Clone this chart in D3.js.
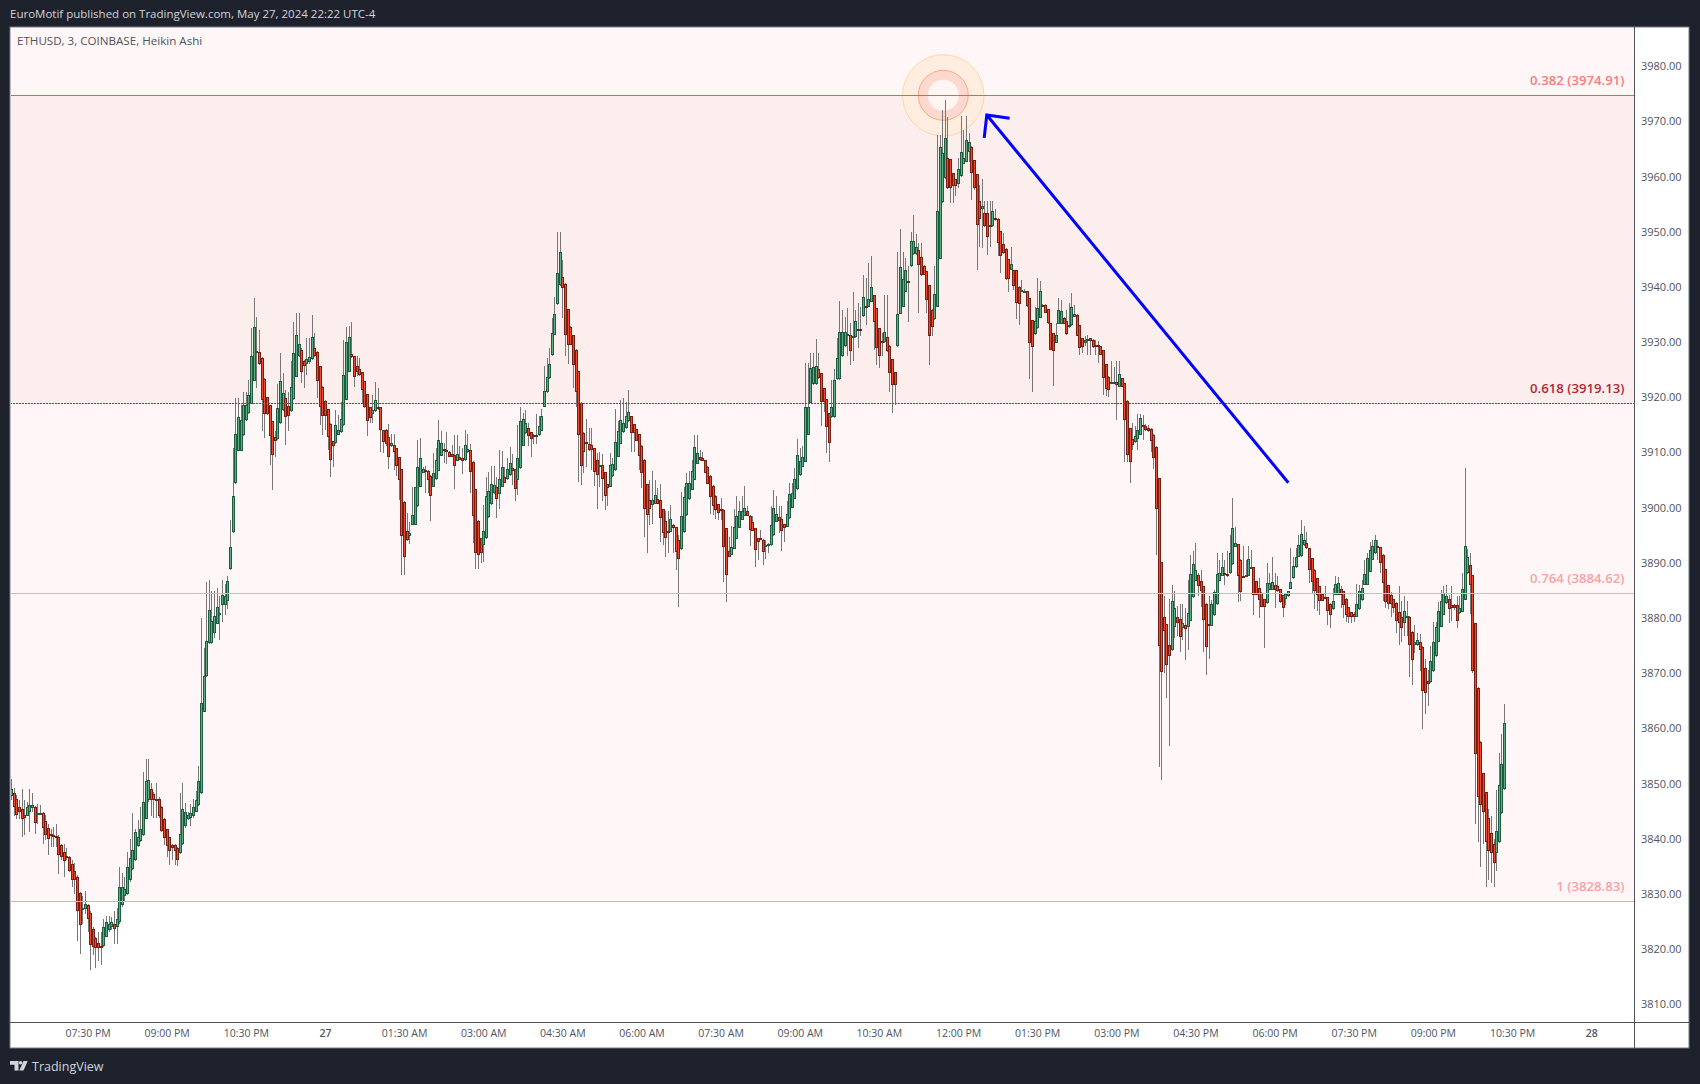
<!DOCTYPE html>
<html><head><meta charset="utf-8">
<script src="https://cdn.jsdelivr.net/npm/d3@7/dist/d3.min.js"></script>
<style>html,body{margin:0;padding:0;background:#1e222d;overflow:hidden}svg{display:block}text{font-family:"Open Sans","Noto Sans",sans-serif}</style>
</head><body><svg id="c" width="1700" height="1084"></svg>
<script>
// Heikin Ashi candles, ETHUSD 3-minute
const opens=[
3847.9,3848.5,3847.3,3845.9,3845.5,3844.5,3844.3,3845.1,3845.7,3846.0,
3844.6,3844.7,3844.8,3843.4,3842.2,3841.1,3840.9,3840.7,3840.5,3839.0,
3837.8,3837.0,3836.9,3835.6,3834.3,3833.3,3830.3,3827.4,3827.4,3828.1,
3826.8,3823.9,3822.1,3821.2,3820.8,3820.7,3822.4,3823.6,3824.1,3824.7,
3824.2,3825.0,3828.1,3829.7,3830.2,3832.6,3834.6,3836.3,3838.8,3839.7,
3840.8,3843.8,3847.1,3849.1,3848.3,3847.4,3847.4,3845.9,3843.7,3841.9,
3840.4,3839.1,3839.0,3838.4,3837.5,3839.2,3842.4,3843.7,3844.0,3844.2,
3845.1,3846.2,3848.4,3863.2,3869.6,3875.6,3875.6,3877.4,3879.1,3880.7,
3882.6,3882.5,3883.3,3889.0,3895.7,3904.6,3910.5,3910.5,3913.3,3916.0,
3917.3,3919.0,3923.2,3928.2,3928.4,3927.3,3923.5,3920.2,3918.7,3915.8,
3912.9,3912.6,3915.5,3917.8,3920.0,3918.6,3917.7,3919.8,3923.9,3927.6,
3928.8,3926.7,3926.2,3926.6,3927.1,3929.1,3928.4,3925.8,3922.1,3919.5,
3918.0,3915.4,3912.2,3911.9,3913.4,3913.8,3915.1,3919.7,3924.8,3928.0,
3927.6,3925.8,3925.3,3924.7,3923.1,3920.7,3918.4,3917.2,3917.7,3918.5,
3918.4,3914.2,3914.3,3913.0,3911.3,3911.5,3910.9,3909.3,3907.1,3901.2,
3896.0,3895.1,3897.1,3897.1,3900.4,3904.0,3906.5,3907.0,3906.9,3906.0,
3904.0,3905.3,3906.9,3909.6,3910.8,3910.6,3910.3,3909.9,3909.7,3908.7,
3909.4,3909.1,3908.8,3910.2,3910.6,3908.5,3903.5,3897.8,3894.6,3893.4,
3894.6,3898.4,3900.8,3902.8,3903.9,3902.7,3904.0,3905.7,3905.3,3906.1,
3907.4,3907.1,3905.2,3907.3,3911.4,3913.7,3914.7,3913.8,3913.4,3913.2,
3913.3,3914.1,3918.5,3921.1,3923.6,3927.8,3931.5,3937.0,3940.5,3941.9,
3940.8,3936.1,3933.0,3931.4,3928.8,3924.9,3919.2,3913.7,3912.1,3911.8,
3911.5,3910.9,3908.9,3907.6,3907.9,3906.6,3904.4,3904.0,3905.9,3907.0,
3909.4,3911.8,3913.8,3914.6,3915.8,3916.7,3915.3,3914.4,3913.5,3911.4,
3908.9,3904.4,3901.5,3900.6,3900.9,3901.7,3901.6,3899.9,3897.7,3896.0,
3895.8,3897.0,3896.6,3894.4,3892.6,3895.7,3898.8,3901.7,3903.4,3905.2,
3908.1,3909.3,3909.1,3908.8,3907.6,3906.0,3904.1,3902.3,3900.8,3900.0,
3899.8,3896.4,3892.3,3891.6,3892.7,3894.5,3896.5,3898.0,3898.6,3899.5,
3898.7,3897.6,3896.4,3894.6,3894.6,3894.4,3893.3,3893.3,3893.4,3895.2,
3897.6,3898.4,3898.2,3897.2,3896.7,3898.3,3900.2,3901.8,3903.5,3906.1,
3907.6,3908.5,3913.4,3919.2,3922.5,3922.5,3925.3,3924.5,3921.8,3919.8,
3917.3,3916.6,3916.6,3923.5,3923.5,3927.6,3929.4,3931.4,3931.5,3930.9,
3931.1,3932.5,3932.5,3934.9,3936.7,3936.6,3937.5,3938.7,3936.3,3932.7,
3930.3,3930.2,3931.1,3929.5,3927.1,3924.7,3929.4,3935.3,3936.6,3939.3,
3941.2,3943.9,3946.1,3946.1,3946.9,3945.6,3944.0,3943.0,3940.5,3936.0,
3934.3,3936.6,3945.3,3955.5,3959.9,3963.5,3963.3,3960.8,3959.7,3958.9,
3960.2,3962.5,3962.9,3964.7,3965.6,3963.1,3960.6,3955.8,3954.3,3953.5,
3953.5,3951.4,3951.2,3952.6,3952.5,3950.3,3947.9,3947.1,3945.2,3943.3,
3943.2,3943.2,3940.2,3939.4,3939.4,3939.4,3938.1,3934.1,3931.6,3932.7,
3934.6,3936.9,3936.9,3936.1,3933.6,3931.8,3930.1,3933.5,3933.5,3934.6,
3934.0,3932.9,3933.2,3934.8,3935.1,3933.2,3930.9,3930.0,3930.5,3930.9,
3930.6,3929.7,3929.7,3929.4,3928.7,3926.2,3923.9,3922.8,3922.8,3923.0,
3922.1,3923.6,3922.7,3919.5,3914.6,3912.6,3912.0,3912.6,3913.4,3915.1,
3915.0,3914.6,3914.5,3913.4,3911.2,3905.5,3890.3,3880.3,3879.0,3875.2,
3874.3,3878.6,3880.3,3880.0,3878.3,3878.9,3878.5,3879.7,3883.9,3886.9,
3887.9,3886.8,3885.9,3882.8,3879.1,3878.8,3880.7,3882.7,3886.9,3887.8,
3888.3,3888.1,3888.3,3889.9,3893.1,3893.5,3890.7,3887.8,3887.7,3887.8,
3889.2,3889.4,3886.8,3885.7,3884.7,3883.6,3882.9,3885.3,3885.3,3886.1,
3885.9,3885.4,3884.3,3883.7,3884.1,3885.5,3887.4,3889.4,3891.3,3891.4,
3893.4,3893.8,3892.8,3891.0,3888.9,3887.4,3885.9,3884.5,3883.9,3883.9,
3882.8,3881.8,3884.4,3884.4,3885.4,3885.0,3883.7,3882.1,3881.2,3880.9,
3880.4,3881.8,3883.4,3886.2,3886.2,3888.6,3890.7,3891.9,3893.2,3893.0,
3891.6,3889.0,3886.1,3884.3,3883.6,3882.9,3881.2,3880.3,3879.2,3880.3,
3880.4,3877.7,3875.2,3875.2,3875.8,3875.0,3871.1,3868.7,3868.5,3870.5,
3873.2,3875.9,3878.6,3880.8,3882.9,3883.6,3882.6,3882.5,3882.5,3881.0,
3881.3,3883.5,3888.3,3889.7,3887.9,3879.2,3867.5,3857.7,3852.0,3848.6,
3844.0,3841.2,3839.3,3837.5,3839.5,3844.8,3849.1];
const closes=[
3849.1,3846.0,3844.5,3845.0,3843.8,3844.0,3846.0,3846.2,3846.2,3843.1,
3844.8,3844.8,3842.2,3840.8,3840.1,3841.0,3840.5,3840.4,3837.3,3836.8,
3836.2,3836.9,3834.4,3832.6,3832.6,3827.0,3824.6,3827.7,3828.4,3825.6,
3821.0,3820.5,3820.3,3820.4,3820.7,3824.1,3825.0,3824.7,3825.0,3823.9,
3825.6,3831.4,3831.4,3831.0,3835.1,3836.6,3838.2,3841.4,3840.4,3841.9,
3846.9,3850.6,3850.9,3847.1,3847.2,3847.2,3844.2,3841.5,3840.3,3838.9,
3838.0,3838.5,3838.0,3836.3,3841.1,3845.5,3845.0,3844.5,3844.8,3845.9,
3847.1,3850.7,3864.8,3869.6,3876.0,3881.6,3879.6,3880.5,3882.2,3881.0,
3884.4,3884.1,3886.8,3893.0,3902.2,3913.5,3916.6,3916.1,3918.7,3918.7,
3920.6,3927.6,3932.9,3928.5,3926.2,3919.6,3917.1,3917.2,3913.1,3909.8,
3912.2,3918.2,3923.2,3920.9,3916.6,3916.8,3922.0,3928.2,3931.4,3929.8,
3924.7,3925.8,3927.2,3927.4,3931.1,3927.6,3923.2,3918.5,3916.7,3916.7,
3912.9,3908.9,3911.3,3915.1,3914.3,3916.2,3924.2,3930.2,3931.1,3927.4,
3923.8,3924.7,3924.2,3921.5,3918.4,3915.8,3916.4,3917.8,3919.6,3918.0,
3914.2,3912.1,3911.7,3909.4,3911.9,3910.2,3907.8,3905.2,3895.1,3891.2,
3894.3,3895.5,3898.9,3903.9,3907.5,3909.1,3907.1,3906.9,3905.2,3902.2,
3906.4,3908.8,3912.5,3911.9,3910.4,3910.2,3909.4,3909.4,3907.8,3909.9,
3908.9,3908.7,3911.5,3910.8,3906.6,3898.6,3892.0,3891.6,3892.0,3895.9,
3902.2,3903.2,3904.4,3904.3,3901.7,3905.3,3907.5,3904.7,3907.1,3908.3,
3906.9,3903.6,3909.1,3915.8,3916.2,3915.5,3913.1,3912.7,3913.2,3913.4,
3914.9,3916.8,3921.4,3923.9,3926.2,3931.9,3935.2,3942.7,3946.6,3939.9,
3931.5,3929.7,3929.7,3926.0,3921.2,3913.4,3907.8,3910.3,3912.0,3910.6,
3910.6,3906.7,3906.1,3907.9,3905.4,3902.2,3903.8,3907.9,3908.1,3912.0,
3914.0,3916.0,3915.5,3916.7,3917.6,3913.7,3913.7,3912.3,3909.6,3906.4,
3899.9,3898.8,3899.9,3901.5,3902.4,3900.9,3898.3,3895.5,3894.6,3895.5,
3898.1,3896.5,3892.1,3890.9,3898.7,3902.1,3904.6,3904.6,3906.9,3911.2,
3910.1,3908.8,3908.7,3906.5,3904.5,3902.1,3900.4,3899.8,3899.2,3899.5,
3893.1,3888.0,3891.3,3893.0,3896.7,3898.7,3899.6,3899.5,3900.2,3898.7,
3896.1,3896.0,3892.5,3894.0,3894.5,3892.2,3893.4,3893.5,3897.0,3900.2,
3899.1,3897.8,3896.0,3896.4,3899.1,3902.7,3902.9,3905.3,3909.7,3908.7,
3909.3,3918.4,3918.4,3925.4,3925.7,3925.9,3923.6,3919.3,3919.3,3914.8,
3911.9,3918.5,3923.3,3927.3,3932.0,3932.0,3932.0,3931.6,3928.6,3931.3,
3934.0,3932.4,3932.4,3938.4,3936.6,3938.0,3940.1,3933.9,3929.1,3927.7,
3930.2,3932.0,3928.5,3924.5,3922.4,3922.4,3935.3,3943.8,3941.7,3943.3,
3941.1,3948.5,3948.5,3947.5,3944.1,3942.3,3942.4,3937.8,3931.3,3933.0,
3938.9,3954.0,3965.5,3964.4,3967.1,3958.1,3958.1,3958.5,3958.4,3961.5,
3964.6,3963.5,3966.8,3966.5,3960.8,3958.1,3951.4,3952.5,3954.8,3951.2,
3949.3,3951.1,3953.9,3952.3,3948.1,3945.7,3946.3,3941.6,3941.6,3944.3,
3940.3,3937.2,3937.1,3939.6,3939.5,3936.7,3930.0,3929.3,3934.0,3936.3,
3939.4,3936.6,3935.5,3933.6,3928.8,3928.5,3931.4,3936.0,3935.8,3933.5,
3931.6,3933.3,3936.6,3935.3,3931.3,3929.1,3929.3,3930.5,3930.7,3930.3,
3929.3,3929.3,3929.3,3927.9,3923.6,3921.6,3921.5,3923.0,3923.0,3922.4,
3924.4,3922.1,3916.1,3909.7,3908.4,3911.5,3913.2,3914.3,3916.4,3915.0,
3914.2,3914.0,3912.3,3909.1,3899.9,3875.1,3870.3,3877.9,3871.6,3873.2,
3883.3,3881.9,3879.3,3876.8,3879.2,3878.1,3881.0,3888.1,3890.0,3888.8,
3885.9,3885.0,3879.8,3875.0,3878.9,3882.7,3884.9,3888.1,3888.4,3889.5,
3888.0,3887.7,3892.0,3896.4,3893.7,3887.7,3884.8,3887.7,3887.9,3890.8,
3889.4,3884.4,3884.4,3883.4,3882.2,3882.1,3886.5,3886.5,3886.7,3885.3,
3885.0,3883.0,3881.9,3884.5,3885.0,3886.7,3889.6,3891.2,3893.4,3895.4,
3894.3,3892.8,3888.9,3886.7,3885.0,3884.4,3883.2,3883.3,3883.8,3881.5,
3880.7,3883.3,3886.4,3886.5,3884.4,3882.5,3880.7,3880.4,3880.3,3880.3,
3882.8,3885.0,3885.6,3888.1,3891.0,3892.5,3893.2,3894.3,3892.8,3890.2,
3886.5,3883.0,3882.7,3882.7,3882.0,3879.6,3879.2,3878.3,3881.4,3880.5,
3875.2,3872.5,3875.9,3876.1,3874.3,3867.0,3866.5,3868.3,3872.3,3875.9,
3878.5,3881.4,3883.2,3884.7,3884.2,3881.8,3882.0,3881.9,3879.6,3881.9,
3885.4,3893.2,3891.2,3886.2,3870.5,3855.5,3847.8,3846.3,3845.1,3839.5,
3838.0,3837.6,3835.7,3841.5,3849.9,3853.7,3861.2];
const highs=[
3851.0,3849.3,3848.1,3847.2,3849.2,3847.2,3846.9,3849.1,3848.4,3846.1,
3846.4,3846.2,3845.1,3844.5,3842.8,3842.0,3842.3,3842.9,3840.8,3839.3,
3839.3,3838.4,3837.0,3836.3,3835.7,3833.6,3830.6,3829.7,3830.7,3828.3,
3827.1,3824.2,3822.4,3823.2,3823.2,3825.7,3826.2,3826.2,3826.0,3827.1,
3827.6,3835.0,3834.0,3833.3,3837.8,3840.1,3844.9,3841.9,3843.6,3846.0,
3852.2,3854.7,3854.7,3850.2,3848.7,3850.2,3847.7,3846.1,3844.0,3842.0,
3840.5,3839.3,3839.2,3838.6,3848.4,3850.2,3846.6,3845.1,3846.5,3847.3,
3848.8,3853.4,3880.1,3874.7,3886.7,3887.1,3885.0,3885.0,3885.6,3884.1,
3887.1,3886.4,3887.7,3898.0,3910.9,3920.0,3920.0,3918.8,3921.2,3921.2,
3923.3,3932.7,3938.1,3934.8,3932.4,3927.4,3923.6,3920.3,3918.8,3915.9,
3914.1,3922.6,3928.2,3924.5,3921.5,3921.2,3926.7,3933.9,3935.5,3935.5,
3929.1,3927.0,3930.9,3930.9,3935.1,3931.8,3928.5,3925.9,3922.2,3919.6,
3918.1,3915.5,3912.3,3917.9,3917.0,3919.4,3930.5,3933.0,3933.1,3933.8,
3927.7,3927.6,3927.3,3924.8,3923.2,3920.8,3918.5,3920.6,3923.0,3921.8,
3918.5,3914.3,3914.4,3915.4,3913.6,3913.6,3911.0,3909.4,3907.2,3901.3,
3899.2,3897.6,3903.9,3904.0,3912.5,3912.8,3907.6,3907.7,3907.0,3906.1,
3910.0,3910.9,3916.1,3914.0,3911.9,3913.9,3910.4,3911.6,3913.4,3913.4,
3911.3,3910.9,3914.3,3913.6,3911.7,3908.6,3903.6,3897.9,3894.7,3900.7,
3905.8,3906.7,3907.7,3907.7,3905.8,3910.6,3910.4,3907.6,3909.1,3911.1,
3909.9,3907.2,3915.2,3918.5,3917.4,3917.8,3915.5,3913.9,3913.5,3917.2,
3916.7,3918.0,3925.9,3927.3,3929.2,3934.5,3938.3,3950.2,3950.2,3945.1,
3940.9,3936.2,3933.1,3931.5,3928.9,3925.0,3919.3,3913.8,3916.2,3914.6,
3914.6,3911.0,3910.0,3910.2,3909.9,3906.7,3904.5,3910.0,3909.1,3918.0,
3915.8,3919.7,3920.1,3919.4,3921.5,3916.8,3915.4,3914.5,3913.6,3911.5,
3909.0,3904.5,3905.2,3906.9,3905.2,3903.7,3904.5,3900.0,3899.5,3899.5,
3900.7,3897.3,3896.7,3895.2,3903.1,3904.0,3906.4,3906.9,3908.8,3913.3,
3913.3,3910.6,3910.3,3908.9,3907.7,3906.1,3904.2,3902.4,3900.9,3902.0,
3899.9,3896.5,3894.9,3896.9,3899.9,3902.2,3901.3,3902.3,3904.1,3900.4,
3898.8,3898.6,3896.5,3894.7,3896.1,3894.5,3894.3,3893.7,3900.4,3903.3,
3902.2,3900.4,3900.4,3897.3,3901.3,3904.6,3904.6,3907.3,3912.6,3910.9,
3911.4,3926.4,3926.4,3928.2,3928.2,3930.7,3928.2,3924.6,3921.9,3919.9,
3917.4,3923.4,3925.3,3930.9,3937.7,3936.0,3934.8,3936.3,3933.6,3939.3,
3936.0,3937.2,3936.6,3942.4,3941.8,3944.5,3945.7,3938.8,3936.4,3932.8,
3931.8,3938.7,3938.7,3929.6,3927.2,3924.8,3946.6,3950.6,3946.5,3945.4,
3943.9,3950.2,3953.2,3949.8,3948.1,3948.1,3944.1,3943.1,3940.6,3936.1,
3943.9,3967.7,3967.7,3972.2,3974.1,3970.9,3963.4,3960.9,3959.8,3963.5,
3971.2,3968.7,3971.2,3968.0,3965.7,3963.2,3960.7,3958.7,3959.7,3955.7,
3955.7,3955.7,3955.7,3954.3,3952.6,3950.4,3949.9,3947.2,3945.3,3947.4,
3943.3,3943.3,3940.3,3941.5,3939.8,3939.5,3938.2,3934.2,3936.6,3941.8,
3941.2,3937.0,3937.0,3936.2,3933.7,3931.9,3933.6,3938.1,3937.8,3934.7,
3936.0,3937.2,3939.0,3936.9,3935.2,3933.3,3931.0,3931.2,3931.5,3931.0,
3930.7,3930.6,3930.3,3929.5,3928.8,3926.3,3924.0,3926.7,3925.7,3926.7,
3926.8,3923.7,3922.8,3919.6,3914.7,3915.6,3915.0,3917.2,3917.2,3917.0,
3915.4,3915.2,3914.6,3913.5,3911.3,3905.6,3890.4,3884.2,3879.1,3883.6,
3886.2,3885.1,3882.4,3882.8,3882.8,3881.9,3887.1,3891.6,3892.4,3893.7,
3888.3,3888.9,3886.0,3882.9,3884.1,3883.4,3885.3,3891.9,3890.7,3891.9,
3890.7,3892.4,3895.2,3901.9,3896.7,3893.6,3890.8,3893.3,3890.7,3893.2,
3892.5,3889.5,3886.9,3887.4,3884.8,3883.7,3890.1,3888.3,3891.2,3888.4,
3887.7,3885.5,3884.4,3884.6,3885.1,3892.8,3891.3,3892.8,3895.2,3897.9,
3896.9,3895.8,3892.9,3891.1,3889.0,3887.5,3886.0,3884.6,3885.9,3884.0,
3882.9,3885.6,3887.8,3887.6,3885.9,3885.1,3883.8,3882.2,3881.3,3881.2,
3886.4,3886.2,3887.1,3890.7,3891.9,3894.0,3894.3,3895.2,3894.3,3893.1,
3891.7,3889.1,3886.2,3884.9,3883.7,3883.0,3886.0,3883.2,3884.2,3883.3,
3880.5,3877.8,3878.9,3877.5,3877.3,3875.1,3872.7,3870.8,3875.1,3879.5,
3879.5,3883.1,3885.3,3886.0,3886.2,3884.4,3886.0,3882.8,3884.2,3884.2,
3888.3,3907.4,3892.6,3892.0,3888.0,3879.3,3867.6,3857.8,3852.1,3848.7,
3845.5,3844.3,3840.2,3849.0,3855.7,3859.2,3864.6];
const lows=[
3847.2,3844.2,3843.7,3843.7,3840.5,3840.8,3844.2,3841.4,3845.1,3841.1,
3842.9,3844.5,3839.2,3839.9,3837.2,3838.6,3838.7,3838.7,3833.8,3836.3,
3833.3,3836.3,3834.2,3831.5,3830.1,3821.7,3819.3,3824.7,3826.6,3823.3,
3816.3,3819.1,3816.7,3818.1,3817.3,3820.6,3822.3,3823.3,3823.6,3821.1,
3821.1,3824.8,3827.8,3828.8,3830.0,3832.4,3834.5,3836.2,3838.7,3839.6,
3840.7,3843.7,3846.9,3844.2,3843.9,3843.9,3844.0,3841.3,3839.0,3836.9,
3835.4,3836.3,3835.4,3835.2,3837.4,3839.1,3842.2,3843.6,3842.4,3844.0,
3845.0,3846.1,3848.3,3863.1,3869.5,3875.5,3875.5,3876.5,3879.0,3876.2,
3879.5,3880.7,3881.8,3888.9,3895.6,3904.5,3910.4,3910.4,3913.2,3915.9,
3917.2,3918.9,3923.1,3921.8,3926.1,3914.0,3912.8,3917.0,3907.9,3903.3,
3909.4,3912.5,3915.4,3917.7,3911.6,3914.1,3917.6,3919.7,3923.8,3927.5,
3922.7,3921.8,3924.2,3926.3,3927.0,3927.5,3920.0,3915.2,3913.4,3914.3,
3910.6,3905.8,3907.6,3911.8,3913.3,3913.7,3915.0,3919.6,3924.7,3927.3,
3922.1,3924.0,3924.1,3919.0,3918.3,3913.2,3915.5,3915.5,3917.6,3917.9,
3910.2,3910.0,3911.3,3907.1,3911.2,3907.0,3906.0,3901.6,3887.9,3887.9,
3894.2,3893.6,3897.0,3897.0,3900.3,3903.9,3906.4,3902.8,3902.8,3897.7,
3903.9,3905.2,3906.8,3909.5,3908.2,3908.1,3909.3,3909.3,3903.6,3908.6,
3908.8,3906.3,3908.7,3910.1,3902.8,3893.7,3889.1,3889.1,3890.2,3890.3,
3894.5,3898.3,3900.7,3902.7,3898.3,3900.0,3903.9,3904.6,3905.2,3906.0,
3904.3,3901.3,3902.5,3907.2,3911.3,3913.6,3911.4,3909.4,3911.7,3911.7,
3913.2,3914.0,3918.4,3921.0,3923.5,3927.7,3931.4,3936.9,3940.4,3934.5,
3927.6,3926.3,3929.6,3921.8,3918.5,3904.9,3904.2,3906.5,3907.6,3910.5,
3907.0,3904.1,3899.9,3904.0,3901.3,3899.8,3900.4,3903.9,3905.8,3906.9,
3909.3,3911.7,3913.7,3914.5,3915.7,3910.3,3910.3,3912.2,3907.0,3903.8,
3894.8,3892.0,3897.0,3897.2,3900.8,3900.8,3894.0,3893.4,3891.3,3891.9,
3895.7,3891.9,3888.8,3882.1,3892.5,3895.6,3898.7,3901.6,3903.4,3905.1,
3908.1,3908.7,3908.6,3906.4,3904.4,3899.0,3898.8,3898.2,3897.9,3897.9,
3886.7,3883.1,3891.2,3891.6,3892.7,3894.5,3896.5,3898.0,3898.6,3898.6,
3893.2,3895.9,3889.5,3890.7,3894.4,3889.7,3890.9,3891.9,3893.3,3895.1,
3897.5,3895.5,3892.4,3894.0,3896.6,3898.2,3900.1,3901.7,3903.4,3906.0,
3907.5,3908.4,3913.3,3919.1,3922.4,3922.4,3923.5,3915.0,3917.6,3910.0,
3908.4,3916.5,3916.5,3923.4,3923.4,3927.5,3929.3,3927.6,3926.1,3926.7,
3931.0,3929.2,3931.2,3934.8,3933.3,3936.5,3937.4,3928.8,3926.1,3925.4,
3927.6,3930.1,3928.4,3921.2,3917.3,3918.8,3929.3,3935.2,3936.5,3939.2,
3933.9,3943.8,3946.0,3946.0,3935.5,3942.2,3942.3,3935.5,3926.0,3931.2,
3934.2,3936.5,3945.2,3955.4,3959.8,3958.0,3955.4,3955.4,3956.6,3958.1,
3960.1,3962.4,3962.8,3962.9,3956.0,3957.8,3943.2,3947.5,3947.2,3951.1,
3946.0,3947.5,3951.1,3952.2,3945.7,3942.7,3946.2,3941.5,3939.3,3943.2,
3939.6,3934.4,3933.3,3939.3,3939.3,3936.6,3923.5,3921.2,3931.5,3932.6,
3934.5,3936.5,3935.4,3933.5,3928.7,3922.3,3930.0,3933.4,3933.4,3933.4,
3931.5,3932.8,3933.1,3934.7,3931.2,3927.9,3928.2,3929.4,3927.9,3927.9,
3929.2,3927.9,3926.4,3927.8,3920.6,3920.4,3920.3,3922.7,3922.7,3916.0,
3922.0,3922.0,3908.5,3908.5,3904.7,3910.7,3911.9,3910.7,3913.3,3912.5,
3914.1,3913.9,3910.3,3907.1,3891.6,3853.2,3850.9,3870.2,3865.7,3856.9,
3874.2,3876.5,3876.9,3874.1,3876.1,3872.5,3874.4,3879.6,3883.8,3886.8,
3884.1,3882.2,3874.1,3869.9,3872.7,3878.7,3880.6,3882.6,3886.8,3887.7,
3886.2,3887.6,3888.2,3889.8,3893.0,3883.0,3883.2,3887.6,3887.6,3887.7,
3889.1,3880.7,3884.3,3880.1,3882.1,3874.8,3882.8,3885.2,3885.2,3881.9,
3884.9,3882.9,3880.3,3882.5,3884.0,3885.4,3887.3,3889.3,3891.2,3891.3,
3893.3,3892.7,3886.5,3884.7,3881.8,3881.5,3880.7,3883.2,3883.7,3878.9,
3878.4,3881.7,3884.3,3884.3,3881.9,3880.2,3879.5,3879.2,3879.2,3879.5,
3880.3,3881.7,3883.3,3886.1,3886.1,3888.5,3890.6,3891.8,3890.6,3888.3,
3883.2,3881.9,3881.8,3880.4,3881.0,3877.4,3875.3,3875.9,3876.9,3876.9,
3869.4,3868.1,3873.9,3875.1,3870.5,3860.1,3862.8,3864.2,3868.4,3870.4,
3873.1,3875.8,3878.5,3880.7,3882.8,3879.3,3879.7,3881.6,3878.3,3880.9,
3881.2,3883.4,3888.2,3880.9,3870.2,3842.8,3839.6,3835.1,3839.2,3831.5,
3832.7,3832.1,3831.4,3834.4,3839.4,3844.7,3849.0];

const priceTicks=[3810,3820,3830,3840,3850,3860,3870,3880,3890,3900,3910,3920,3930,3940,3950,3960,3970,3980];
const timeLabels=["07:30 PM","09:00 PM","10:30 PM","27","01:30 AM","03:00 AM","04:30 AM","06:00 AM","07:30 AM","09:00 AM","10:30 AM","12:00 PM","01:30 PM","03:00 PM","04:30 PM","06:00 PM","07:30 PM","09:00 PM","10:30 PM","28"];
const timeTickIndex=[29,59,89,119,149,179,209,239,269,299,329,359,389,419,449,479,509,539,569,599];
const fibLevels=[0.382,0.618,0.764,1];
const fibPrices=[3974.91,3919.13,3884.62,3828.83];
const fibColors=["#f7525f","#c2202e","#d9b8b8","#f5a6ab"];
const fibText=["#f77c80","#b22833","#faa1a4","#faa1a4"];

const W=1700,H=1084,L=10,R=1689,T=27,B=1048,AX=1634,AY=1022;
const x=d3.scaleLinear().domain([0,566]).range([11,11+2.638*566]);
const y=d3.scaleLinear().domain([3828.83,3974.91]).range([901.3,95.3]);
const svg=d3.select("#c");

svg.append("rect").attr("width",W).attr("height",H).attr("fill","#1e222d");
svg.append("rect").attr("x",L).attr("y",T).attr("width",R-L).attr("height",B-T).attr("fill","#fff").attr("stroke","#787b86");
svg.append("defs").append("clipPath").attr("id","pane").append("rect").attr("x",L+1).attr("y",T+1).attr("width",AX-L-1).attr("height",AY-T-1);
const pane=svg.append("g").attr("clip-path","url(#pane)");

// fib zones
pane.append("rect").attr("x",L).attr("width",AX-L).attr("y",T).attr("height",y(fibPrices[0])-T).attr("fill","#fff7f7");
pane.append("rect").attr("x",L).attr("width",AX-L).attr("y",y(fibPrices[0])).attr("height",y(fibPrices[1])-y(fibPrices[0])).attr("fill","#fdeeee");
pane.append("rect").attr("x",L).attr("width",AX-L).attr("y",y(fibPrices[1])).attr("height",y(fibPrices[3])-y(fibPrices[1])).attr("fill","#fff7f7");

// highlight rings
const ringX=x(353.4),ringY=y(fibPrices[0]);
pane.append("circle").attr("cx",ringX).attr("cy",ringY).attr("r",40.7).attr("fill","#ffeedf").attr("stroke","#ffd6a8").attr("stroke-width",1);
pane.append("circle").attr("cx",ringX).attr("cy",ringY).attr("r",25).attr("fill","#fdd8cf").attr("stroke","#f7ab86").attr("stroke-width",1);
pane.append("circle").attr("cx",ringX).attr("cy",ringY).attr("r",15.5).attr("fill","#fff5f3");

// candles
const idx=d3.range(Math.min(opens.length,closes.length,highs.length,lows.length));
const px=i=>Math.round(x(i));
pane.append("g").attr("shape-rendering","crispEdges").selectAll("line").data(idx).join("line")
  .attr("x1",px).attr("x2",px)
  .attr("y1",i=>y(Math.max(highs[i],opens[i],closes[i])))
  .attr("y2",i=>y(Math.min(lows[i],opens[i],closes[i])))
  .attr("stroke","#777").attr("stroke-width",1);
const up=i=>closes[i]>=opens[i];
const bodyTop=i=>Math.round(y(Math.max(opens[i],closes[i])));
const bodyBot=i=>Math.max(bodyTop(i)+2,Math.round(y(Math.min(opens[i],closes[i]))));
pane.append("g").attr("shape-rendering","crispEdges").selectAll("rect").data(idx).join("rect")
  .attr("x",i=>px(i)-1).attr("width",3)
  .attr("y",bodyTop).attr("height",i=>bodyBot(i)-bodyTop(i))
  .attr("fill",i=>up(i)?"#1d5c3f":"#7c1d12");
pane.append("g").attr("shape-rendering","crispEdges").selectAll("rect").data(idx.filter(i=>bodyBot(i)-bodyTop(i)>2)).join("rect")
  .attr("x",px).attr("width",1)
  .attr("y",i=>bodyTop(i)+1).attr("height",i=>bodyBot(i)-bodyTop(i)-2)
  .attr("fill",i=>up(i)?"#5cae87":"#ee4a2f");

// fib lines and labels
pane.selectAll("line.fib").data(fibPrices).join("line").attr("class","fib")
  .attr("x1",L).attr("x2",AX).attr("y1",d=>Math.round(y(d))+.5).attr("y2",d=>Math.round(y(d))+.5)
  .attr("stroke",(d,i)=>fibColors[i]).attr("stroke-width",1)
  .attr("stroke-dasharray",(d,i)=>i==1?"2 1":null);
svg.selectAll("text.fibl").data(fibPrices).join("text").attr("class","fibl")
  .attr("x",1624.5).attr("y",d=>y(d)-15).attr("dy","0.36em").attr("text-anchor","end")
  .attr("font-size",13.2).attr("font-weight",600).attr("fill",(d,i)=>fibText[i])
  .text((d,i)=>`${fibLevels[i]} (${d.toFixed(2)})`);

// arrow
const tail=[x(484.2),y(3904.69)],tip=[x(369.9),y(3971.33)];
const ang=Math.atan2(tail[1]-tip[1],tail[0]-tip[0]);
const barb=a=>[tip[0]+23*Math.cos(ang+a),tip[1]+23*Math.sin(ang+a)];
svg.append("path").attr("d",d3.line()([tail,tip])).attr("stroke","#0000ff").attr("stroke-width",3).attr("fill","none");
svg.append("path").attr("d",d3.line()([barb(-0.745),tip,barb(0.8)])).attr("stroke","#0000ff").attr("stroke-width",3).attr("fill","none");

// axes
svg.append("line").attr("x1",AX+.5).attr("x2",AX+.5).attr("y1",T).attr("y2",B).attr("stroke","#50535e");
svg.append("line").attr("x1",L).attr("x2",R).attr("y1",AY+.5).attr("y2",AY+.5).attr("stroke","#50535e");
const ya=svg.append("g").attr("transform",`translate(${AX},-1)`)
  .call(d3.axisRight(y).tickValues(priceTicks).tickFormat(d3.format(".2f")).tickSize(0).tickPadding(7));
ya.select(".domain").remove();
ya.selectAll("text").attr("font-size",11).attr("fill","#50535e").style("font-family",'"Open Sans",sans-serif');
const xa=svg.append("g").attr("transform",`translate(0,${AY})`)
  .call(d3.axisBottom(x).tickValues(timeTickIndex).tickFormat((d,i)=>timeLabels[i]).tickSize(0).tickPadding(8));
xa.select(".domain").remove();
xa.selectAll("text").attr("font-size",10.5).attr("fill","#50535e").style("font-family",'"Open Sans",sans-serif')
  .attr("font-weight",d=>(d===119||d===599)?600:400);

// titles
svg.append("text").attr("x",10).attr("y",18).attr("font-size",11.5).attr("fill","#d1d4dc").text("EuroMotif published on TradingView.com, May 27, 2024 22:22 UTC-4");
svg.append("text").attr("x",17).attr("y",45).attr("font-size",11.6).attr("fill","#50535e").text("ETHUSD, 3, COINBASE, Heikin Ashi");

// footer logo and name
const logo=svg.append("g").attr("fill","#d1d4dc");
logo.append("path").attr("d","M10 1061h8.5v9.5h-4v-5.8h-4.5z");
logo.append("circle").attr("cx",20.6).attr("cy",1062.8).attr("r",1.8);
logo.append("path").attr("d","M23.5 1061h4.2l-4.2 9.5h-4.2z");
svg.append("text").attr("x",32).attr("y",1071).attr("font-size",12.5).attr("fill","#d1d4dc").text("TradingView");
</script></body></html>
